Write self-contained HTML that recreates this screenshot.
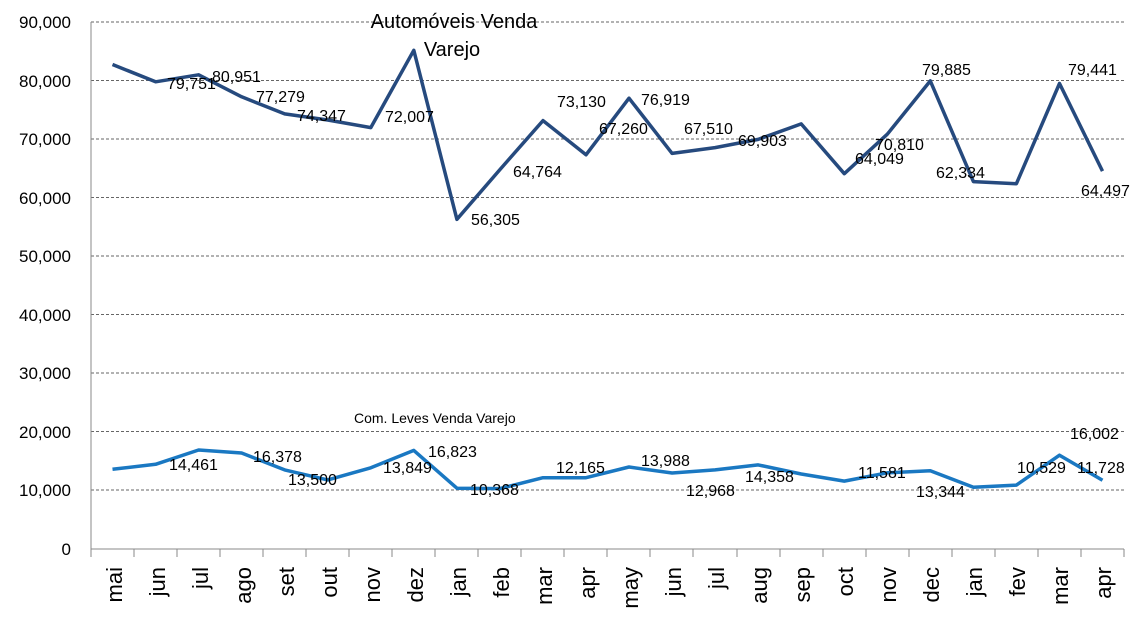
<!DOCTYPE html>
<html><head><meta charset="utf-8"><style>body{margin:0;background:#fff}svg{display:block}text{font-family:"Liberation Sans",sans-serif;fill:#000}</style></head><body>
<svg width="1140" height="627" xmlns="http://www.w3.org/2000/svg">
<g stroke="#666" stroke-dasharray="3,2" stroke-width="1">
<line x1="91" x2="1124" y1="22" y2="22"/><line x1="91" x2="1124" y1="80.5" y2="80.5"/><line x1="91" x2="1124" y1="139" y2="139"/><line x1="91" x2="1124" y1="197.5" y2="197.5"/><line x1="91" x2="1124" y1="256" y2="256"/><line x1="91" x2="1124" y1="314.5" y2="314.5"/><line x1="91" x2="1124" y1="373" y2="373"/><line x1="91" x2="1124" y1="431.5" y2="431.5"/><line x1="91" x2="1124" y1="490" y2="490"/>
</g>
<line x1="91" x2="1124" y1="549" y2="549" stroke="#888"/>
<line x1="91" x2="91" y1="22" y2="549" stroke="#888"/>
<g stroke="#888">
<line x1="91" x2="91" y1="549" y2="557"/><line x1="134" x2="134" y1="549" y2="557"/><line x1="177" x2="177" y1="549" y2="557"/><line x1="220" x2="220" y1="549" y2="557"/><line x1="263" x2="263" y1="549" y2="557"/><line x1="306" x2="306" y1="549" y2="557"/><line x1="349" x2="349" y1="549" y2="557"/><line x1="392" x2="392" y1="549" y2="557"/><line x1="435" x2="435" y1="549" y2="557"/><line x1="478" x2="478" y1="549" y2="557"/><line x1="521" x2="521" y1="549" y2="557"/><line x1="564" x2="564" y1="549" y2="557"/><line x1="607" x2="607" y1="549" y2="557"/><line x1="650" x2="650" y1="549" y2="557"/><line x1="693" x2="693" y1="549" y2="557"/><line x1="737" x2="737" y1="549" y2="557"/><line x1="780" x2="780" y1="549" y2="557"/><line x1="823" x2="823" y1="549" y2="557"/><line x1="866" x2="866" y1="549" y2="557"/><line x1="909" x2="909" y1="549" y2="557"/><line x1="952" x2="952" y1="549" y2="557"/><line x1="995" x2="995" y1="549" y2="557"/><line x1="1038" x2="1038" y1="549" y2="557"/><line x1="1081" x2="1081" y1="549" y2="557"/><line x1="1124" x2="1124" y1="549" y2="557"/>
</g>
<g font-size="17" text-anchor="end">
<text x="71" y="28">90,000</text><text x="71" y="87">80,000</text><text x="71" y="145">70,000</text><text x="71" y="204">60,000</text><text x="71" y="262">50,000</text><text x="71" y="321">40,000</text><text x="71" y="379">30,000</text><text x="71" y="438">20,000</text><text x="71" y="496">10,000</text><text x="71" y="555">0</text>
</g>
<g font-size="22" text-anchor="end">
<text transform="translate(122,567) rotate(-90)">mai</text>
<text transform="translate(165,567) rotate(-90)">jun</text>
<text transform="translate(208,567) rotate(-90)">jul</text>
<text transform="translate(251,567) rotate(-90)">ago</text>
<text transform="translate(294,567) rotate(-90)">set</text>
<text transform="translate(337,567) rotate(-90)">out</text>
<text transform="translate(380,567) rotate(-90)">nov</text>
<text transform="translate(423,567) rotate(-90)">dez</text>
<text transform="translate(466,567) rotate(-90)">jan</text>
<text transform="translate(509,567) rotate(-90)">feb</text>
<text transform="translate(552,567) rotate(-90)">mar</text>
<text transform="translate(595,567) rotate(-90)">apr</text>
<text transform="translate(638,567) rotate(-90)">may</text>
<text transform="translate(681,567) rotate(-90)">jun</text>
<text transform="translate(724,567) rotate(-90)">jul</text>
<text transform="translate(767,567) rotate(-90)">aug</text>
<text transform="translate(810,567) rotate(-90)">sep</text>
<text transform="translate(853,567) rotate(-90)">oct</text>
<text transform="translate(896,567) rotate(-90)">nov</text>
<text transform="translate(939,567) rotate(-90)">dec</text>
<text transform="translate(982,567) rotate(-90)">jan</text>
<text transform="translate(1025,567) rotate(-90)">fev</text>
<text transform="translate(1068,567) rotate(-90)">mar</text>
<text transform="translate(1111,567) rotate(-90)">apr</text>
</g>
<polyline fill="none" stroke="#264a7e" stroke-width="3.5" stroke-linejoin="round" points="112.5,64.5 155.6,81.8 198.6,74.8 241.6,96.8 284.7,113.9 327.7,120 370.8,127.6 413.8,50.3 456.9,219.3 499.9,169.6 543,120.6 586,154.8 629,98.2 672.1,153.4 715.1,147.6 758.2,139.4 801.2,123.9 844.3,173.7 887.3,134.2 930.3,80.9 973.4,181.6 1016.4,183.7 1059.5,83.5 1102.5,171.1"/>
<polyline fill="none" stroke="#1a78c2" stroke-width="3.5" stroke-linejoin="round" points="112.5,469.3 155.6,464.3 198.6,450 241.6,453 284.7,469.9 327.7,479.9 370.8,467.8 413.8,450.4 456.9,488.2 499.9,488.6 543,477.7 586,477.7 629,467 672.1,473 715.1,469.9 758.2,464.9 801.2,474 844.3,481.1 887.3,472.8 930.3,470.8 973.4,487.3 1016.4,485.1 1059.5,455.2 1102.5,480.3"/>
<g font-size="16">
<text x="167" y="89">79,751</text><text x="212" y="82">80,951</text><text x="256" y="102">77,279</text><text x="297" y="121">74,347</text><text x="385" y="122">72,007</text><text x="471" y="225">56,305</text><text x="513" y="177">64,764</text><text x="557" y="107">73,130</text><text x="641" y="105">76,919</text><text x="599" y="134">67,260</text><text x="684" y="134">67,510</text><text x="738" y="146">69,903</text><text x="855" y="164">64,049</text><text x="875" y="150">70,810</text><text x="922" y="75">79,885</text><text x="936" y="178">62,334</text><text x="1068" y="75">79,441</text><text x="1081" y="196">64,497</text>
<text x="169" y="470">14,461</text><text x="253" y="462">16,378</text><text x="288" y="485">13,500</text><text x="383" y="473">13,849</text><text x="428" y="457">16,823</text><text x="470" y="495">10,368</text><text x="556" y="473">12,165</text><text x="641" y="466">13,988</text><text x="686" y="496">12,968</text><text x="745" y="482">14,358</text><text x="858" y="478">11,581</text><text x="916" y="497">13,344</text><text x="1017" y="473">10,529</text><text x="1070" y="439">16,002</text><text x="1077" y="473">11,728</text>
</g>
<text x="454" y="28" font-size="20" text-anchor="middle">Automóveis Venda</text>
<text x="452" y="56" font-size="20" text-anchor="middle">Varejo</text>
<text x="354" y="423" font-size="14">Com. Leves Venda Varejo</text>
</svg>
</body></html>
